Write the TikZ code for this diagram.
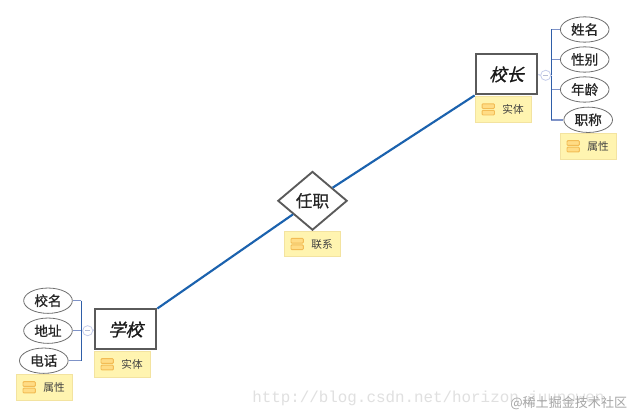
\documentclass[tikz,border=0pt]{standalone}
\usepackage{fontspec}
\usetikzlibrary{shapes.geometric,backgrounds}
\setmainfont{Noto Sans CJK SC}
\newfontfamily\urlfont{Liberation Mono}
\newfontfamily\semibold[FakeBold=0.7]{Noto Sans CJK SC}
\newfontfamily\slanted[FakeSlant=0.25,FakeBold=1]{Noto Sans CJK SC}
\definecolor{boxgray}{HTML}{5A5A5A}
\definecolor{ringgray}{HTML}{707070}
\definecolor{linkblue}{HTML}{1B62AE}
\definecolor{spineblue}{HTML}{2F5FA8}
\definecolor{branchblue}{HTML}{7F93C8}
\definecolor{tagfill}{HTML}{FFF4B0}
\definecolor{tagline}{HTML}{F3E3A0}
\definecolor{iconfill}{HTML}{FFDC85}
\definecolor{iconline}{HTML}{F2BC55}
\definecolor{foldline}{HTML}{C5CDEB}
\tikzset{
 x=0.75pt,y=-0.75pt,
 entity/.style={draw=boxgray,line width=1.5pt,fill=white,minimum width=46.3pt,minimum height=30pt,inner sep=0pt,font=\slanted\fontsize{13}{13}\selectfont,text=black!90},
 relation/.style={diamond,aspect=1.18,draw=boxgray,line width=1.4pt,fill=white,minimum width=52pt,minimum height=44pt,inner sep=0pt,font=\semibold\fontsize{12.5}{13}\selectfont,text=black!85},
 attr/.style={ellipse,draw=ringgray,line width=0.6pt,fill=white,minimum width=36.5pt,minimum height=19pt,inner sep=0pt,font=\semibold\fontsize{10.2}{11}\selectfont,text=black!85},
 tag/.style={draw=tagline,line width=0.6pt,fill=tagfill,minimum width=41.8pt,minimum height=19.3pt,inner sep=0pt},
 tagtext/.style={inner sep=0pt,font=\fontsize{8}{8}\selectfont,text=black!75},
 linkline/.style={draw=linkblue,line width=1.6pt},
 spine/.style={draw=spineblue,line width=1.15pt},
 branch/.style={draw=branchblue,line width=1.2pt},
 foldlink/.style={draw=foldline,line width=0.8pt},
 fold/.style={circle,draw=foldline,line width=0.6pt,fill=white,minimum size=7.6pt,inner sep=0pt},
 foldbar/.style={draw=foldline!80!gray,line width=0.5pt},
 iconbar/.style={draw=iconline,line width=0.7pt,fill=iconfill,rounded corners=0.7pt},
 markurl/.style={inner sep=0pt,font=\urlfont\fontsize{11.9}{12}\selectfont,text=black!12},
 marksite/.style={inner sep=0pt,font=\fontsize{9.8}{10}\selectfont,text=black!35},
}
\newcommand{\tagicon}[2]{%
 \path[iconbar] (#1-6.2,#2-5.6) rectangle (#1+6.2,#2-0.9);
 \path[iconbar] (#1-6.2,#2+0.9) rectangle (#1+6.2,#2+5.6);
}
\begin{document}
\begin{tikzpicture}
\useasboundingbox (0,0) rectangle (633,417);
\fill[white] (0,0) rectangle (633,417);
% watermark
\node[markurl,anchor=west] (wm) at (252,398) {http://blog.csdn.net/horizon\_juunowen};
\node[marksite,anchor=west] (wm2) at (510,403.5) {@稀土掘金技术社区};
% main nodes
\node[entity] (school) at (125.5,329.5) {学校};
\node[entity] (head) at (506.5,74.4) {校长};
\node[relation] (rel) at (312.5,200.8) {任职};
\draw[linkline] (school.north east) -- (rel);
\draw[linkline] (rel) -- (head.south west);
% head attributes
\node[attr] (a1) at (584.7,29.5) {姓名};
\node[attr] (a2) at (584.7,59.5) {性别};
\node[attr] (a3) at (584.7,89.5) {年龄};
\node[attr] (a4) at (588.2,119.8) {职称};
\coordinate (ht) at (551.3,29.5);
\coordinate (hb) at (551.3,119.8);
\draw[branch] (ht) -- (a1.west);
\draw[branch] (551.3,59.5) -- (a2.west);
\draw[branch] (551.3,89.5) -- (a3.west);
\draw[branch] (hb) -- (a4.west);
\draw[spine] (ht) -- (hb);
\node[fold] (hf) at (545.7,75.3) {};
\draw[foldbar] (543.2,75.3) -- (548.2,75.3);
\draw[foldlink] (hf.east) -- (551.3,75.3);
\draw[foldlink] (head.east) -- (hf.west);
% school attributes
\node[attr] (b1) at (48,300.7) {校名};
\node[attr] (b2) at (48,330.7) {地址};
\node[attr] (b3) at (43.8,360.7) {电话};
\coordinate (st) at (81.3,300.7);
\coordinate (sb) at (81.3,360.7);
\draw[branch] (st) -- (b1.east);
\draw[branch] (81.3,330.7) -- (b2.east);
\draw[branch] (sb) -- (b3.east);
\draw[spine] (st) -- (sb);
\node[fold] (sf) at (87.7,330.7) {};
\draw[foldbar] (85.2,330.7) -- (90.2,330.7);
\draw[foldlink] (sf.east) -- (school.west);
% tags
\node[tag] (t1) at (503.5,109.4) {};
\tagicon{488.3}{109.4}
\node[tagtext] (t1t) at (513,109.6) {实体};
\node[tag] (t2) at (588.5,146.3) {};
\tagicon{573.2}{146.3}
\node[tagtext] (t2t) at (598,146.5) {属性};
\node[tag] (t3) at (312.5,244) {};
\tagicon{297.2}{244}
\node[tagtext] (t3t) at (322,244.2) {联系};
\node[tag] (t4) at (122.5,364.3) {};
\tagicon{107.2}{364.3}
\node[tagtext] (t4t) at (132,364.5) {实体};
\node[tag] (t5) at (44.5,387.3) {};
\tagicon{29.2}{387.3}
\node[tagtext] (t5t) at (54,387.5) {属性};
\end{tikzpicture}
\end{document}
